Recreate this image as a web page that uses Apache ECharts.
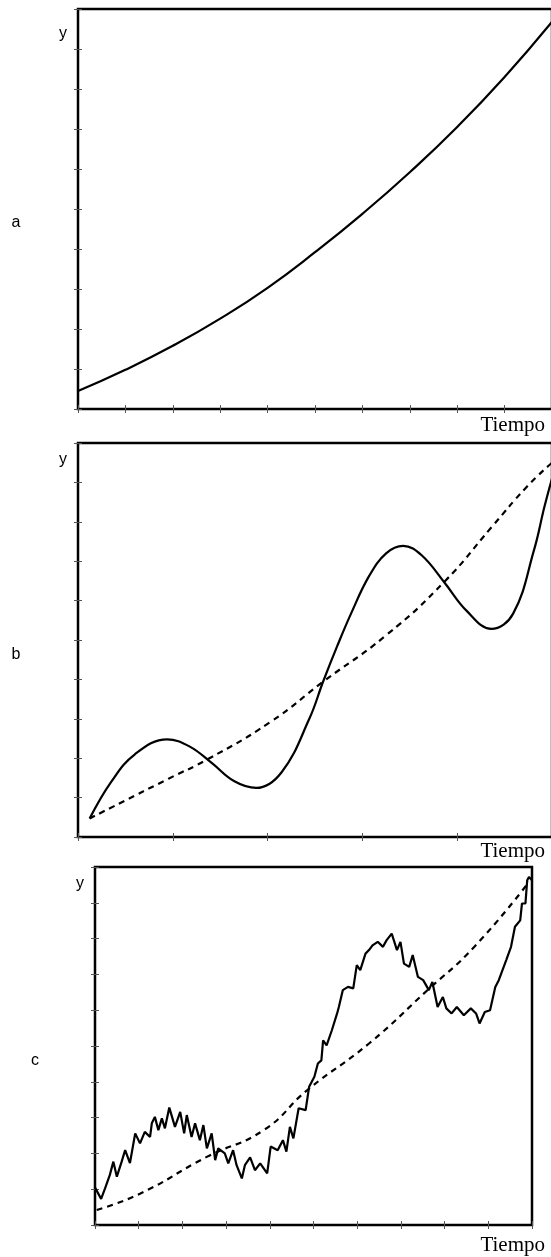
<!DOCTYPE html>
<html><head><meta charset="utf-8">
<script src="https://cdn.jsdelivr.net/npm/echarts@6/dist/echarts.min.js"></script>
<style>html,body{margin:0;padding:0;background:#fff}#c{width:551px;height:1257px}</style>
</head><body><div id="c"></div>
<script>
// Panel a: exponential curve
const aX = [0, 1, 2, 3, 4, 5, 6, 7, 8, 9, 10];
const aY = [0.45, 0.98, 1.58, 2.26, 3.03, 3.92, 4.88, 5.92, 7.05, 8.3, 9.68];

// Panel b: trend (dashed) and smooth cycle (solid)
const bTrendX = [0.245, 1.91, 2.73, 4.06, 5.17, 6.5, 7.73, 8.73, 9.47, 10];
const bTrendY = [0.47, 1.48, 1.97, 2.92, 3.94, 5.12, 6.48, 7.87, 8.89, 9.5];
const bCycleX = [0.245, 0.7, 1.2, 1.88, 2.35, 2.82, 3.29, 3.76, 4.3, 4.88, 5.17, 5.47, 5.76, 6.14, 6.5, 6.86, 7.25, 7.73, 8.2, 8.72, 9.18, 9.62, 9.84, 10];
const bCycleY = [0.47, 1.4, 2.1, 2.48, 2.3, 1.88, 1.42, 1.245, 1.65, 3.0, 3.94, 4.85, 5.67, 6.62, 7.2, 7.39, 7.15, 6.46, 5.74, 5.28, 5.67, 7.28, 8.38, 9.1];

// Panel c: trend (dashed) and noisy series (solid)
const cTrendX = [0.04, 1.04, 2.57, 3.86, 4.86, 6.27, 7.6, 8.68, 9.93];
const cTrendY = [0.42, 0.88, 1.91, 2.65, 3.77, 5.07, 6.55, 7.77, 9.58];
const cNoisyX = [0, 0.14, 0.23, 0.34, 0.42, 0.5, 0.61, 0.69, 0.8, 0.92, 1.03, 1.14, 1.26, 1.3, 1.37, 1.45, 1.53, 1.6, 1.7, 1.83, 1.95, 2.04, 2.1, 2.21, 2.29, 2.4, 2.48, 2.56, 2.67, 2.75, 2.82, 2.97, 3.05, 3.16, 3.24, 3.36, 3.43, 3.55, 3.66, 3.78, 3.94, 4.02, 4.18, 4.3, 4.38, 4.46, 4.54, 4.66, 4.82, 4.9, 5.02, 5.1, 5.18, 5.22, 5.3, 5.42, 5.54, 5.58, 5.67, 5.79, 5.91, 5.99, 6.07, 6.19, 6.27, 6.35, 6.47, 6.59, 6.67, 6.79, 6.91, 6.99, 7.07, 7.19, 7.27, 7.39, 7.51, 7.64, 7.72, 7.84, 7.96, 8.04, 8.16, 8.28, 8.44, 8.6, 8.72, 8.8, 8.92, 9.04, 9.16, 9.24, 9.41, 9.52, 9.61, 9.73, 9.77, 9.85, 9.89, 9.93, 10];
const cNoisyY = [1.05, 0.73, 1.02, 1.4, 1.77, 1.35, 1.77, 2.09, 1.73, 2.56, 2.28, 2.6, 2.46, 2.84, 3.02, 2.65, 2.98, 2.7, 3.28, 2.74, 3.16, 2.56, 3.07, 2.46, 2.84, 2.37, 2.79, 2.14, 2.56, 1.81, 2.14, 2.0, 1.72, 2.09, 1.67, 1.3, 1.67, 1.89, 1.53, 1.72, 1.44, 2.19, 2.09, 2.37, 2.05, 2.74, 2.42, 3.26, 3.21, 3.86, 4.14, 4.51, 4.6, 5.16, 5.02, 5.44, 5.91, 6.09, 6.56, 6.65, 6.61, 7.26, 7.12, 7.58, 7.68, 7.81, 7.91, 7.77, 7.95, 8.14, 7.68, 7.91, 7.3, 7.21, 7.54, 6.93, 6.84, 6.56, 6.79, 6.09, 6.37, 6.05, 5.91, 6.09, 5.86, 6.05, 5.91, 5.63, 5.95, 6.0, 6.65, 6.84, 7.4, 7.77, 8.33, 8.51, 8.98, 8.98, 9.63, 9.72, 9.63];

const pairs = (xs, ys) => xs.map((x, i) => [x, ys[i]]);

const grids = [
  {left: 78, top: 9, width: 474, height: 400},
  {left: 78, top: 443, width: 474, height: 394},
  {left: 95, top: 867, width: 437, height: 358}
];
const xIntervals = [1, 2, 1];

const tickStyle = {show: true, inside: true, length: 4, lineStyle: {color: '#555', width: 1}};
const xAxes = [], yAxes = [];
grids.forEach((g, i) => {
  ['bottom', 'top'].forEach(pos => xAxes.push({
    type: 'value', gridIndex: i, position: pos, min: 0, max: 10, interval: xIntervals[i],
    axisLine: {show: false}, axisTick: tickStyle, axisLabel: {show: false}, splitLine: {show: false}
  }));
  ['left', 'right'].forEach(pos => yAxes.push({
    type: 'value', gridIndex: i, position: pos, min: 0, max: 10, interval: 1,
    axisLine: {show: false}, axisTick: tickStyle, axisLabel: {show: false}, splitLine: {show: false}
  }));
});

const solid = {color: '#000', width: 2.2};
const dashed = {color: '#000', width: 2.2, type: [6, 5]};
const series = [
  {type: 'line', xAxisIndex: 0, yAxisIndex: 0, data: pairs(aX, aY), smooth: true, showSymbol: false, lineStyle: solid},
  {type: 'line', xAxisIndex: 2, yAxisIndex: 2, data: pairs(bTrendX, bTrendY), smooth: true, showSymbol: false, lineStyle: dashed},
  {type: 'line', xAxisIndex: 2, yAxisIndex: 2, data: pairs(bCycleX, bCycleY), smooth: 0.4, showSymbol: false, lineStyle: solid},
  {type: 'line', xAxisIndex: 4, yAxisIndex: 4, data: pairs(cTrendX, cTrendY), smooth: true, showSymbol: false, lineStyle: dashed},
  {type: 'line', xAxisIndex: 4, yAxisIndex: 4, data: pairs(cNoisyX, cNoisyY), smooth: false, showSymbol: false, lineStyle: solid}
];

const sans = '16px "Liberation Sans", Arial, sans-serif';
const serif = '21px "Liberation Serif", "Times New Roman", serif';
const txt = (t, x, y, font, align) => ({
  type: 'text', x: x, y: y, silent: true,
  style: {text: t, font: font, fill: '#000', textAlign: align || 'center', textVerticalAlign: 'middle'}
});

const chart = echarts.init(document.getElementById('c'), null, {renderer: 'canvas'});
chart.setOption({
  animation: false,
  backgroundColor: '#fff',
  grid: grids.map(g => Object.assign({show: true, borderColor: '#000', borderWidth: 2.5, backgroundColor: 'transparent', containLabel: false, outerBoundsMode: 'none'}, g)),
  xAxis: xAxes,
  yAxis: yAxes,
  series: series,
  graphic: [
    txt('y', 63, 34, sans), txt('a', 16, 223, sans), txt('Tiempo', 545, 425, serif, 'right'),
    txt('y', 63, 460, sans), txt('b', 16, 655, sans), txt('Tiempo', 545, 851, serif, 'right'),
    txt('y', 80, 884, sans), txt('c', 35, 1061, sans), txt('Tiempo', 545, 1245, serif, 'right')
  ]
});
</script></body></html>
